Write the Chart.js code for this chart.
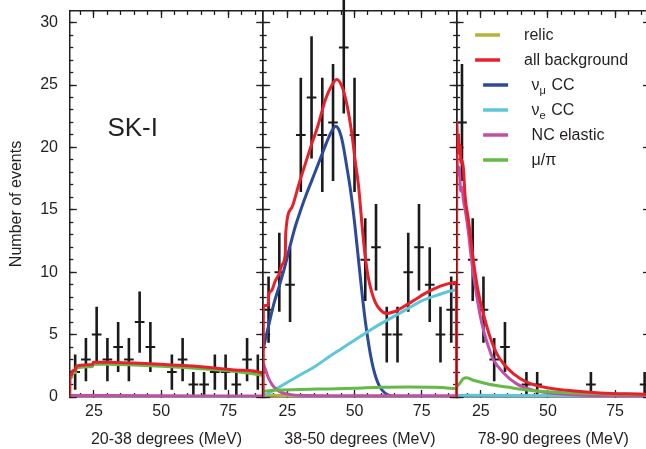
<!DOCTYPE html>
<html>
<head>
<meta charset="utf-8">
<title>SK-I relic search spectra</title>
<script src="https://cdn.jsdelivr.net/npm/chart.js@4.4.1/dist/chart.umd.min.js"></script>
<style>
  html, body { margin: 0; padding: 0; background: #ffffff; overflow: hidden; }
  #wrap { position: relative; width: 646px; height: 449px; overflow: hidden; background: #ffffff; }
  #wrap canvas { position: absolute; left: 0; top: 0; }
</style>
</head>
<body>
<div id="wrap">
  <canvas id="p1" width="650" height="449"></canvas>
  <canvas id="p2" width="650" height="449"></canvas>
  <canvas id="p3" width="650" height="449"></canvas>
</div>
<script>
// ---------------- data ----------------
const binCenters = [18, 22, 26, 30, 34, 38, 42, 46, 50, 54, 58, 62, 66, 70, 74, 78, 82, 86];
const counts20to38 = [2, 3, 5, 3, 4, 3, 6, 4, 0, 2, 3, 1, 1, 2, 2, 1, 3, 2];
const counts38to50 = [7, 10, 9, 21, 24, 21, 22, 28, 21, 11, 12, 5, 5, 10, 12, 9, 5, 7];
const counts78to90 = [22, 11, 7, 3, 4, 0, 1, 1, 0, 0, 0, 0, 1, 0, 0, 0, 0, 1];

const xTicks = [25, 50, 75];
const yTicks = [0, 5, 10, 15, 20, 25, 30];
const panelTitles = ['20-38 degrees (MeV)', '38-50 degrees (MeV)', '78-90 degrees (MeV)'];
const panelTag = 'SK-I';
const yTitle = 'Number of events';
const seriesNames = ['relic', 'all background', 'ν_μ CC', 'ν_e CC', 'NC elastic', 'μ/π'];

// panel A : 20-38 degrees
const relicE_A = [16, 88];
const relicY_A = [0.01, 0.01];
const bkgE_A = [16, 16.05, 16.8, 16.9, 18.2, 18.3, 24.5, 24.7, 30, 40, 50, 60, 70, 80, 87.95, 88];
const bkgY_A = [0, 1.72, 1.78, 2.08, 2.15, 2.45, 2.6, 2.78, 2.78, 2.72, 2.62, 2.5, 2.33, 2.14, 1.88, 0];
const numuE_A = [16, 88];
const numuY_A = [0, 0];
const nueE_A = [16, 88];
const nueY_A = [0.02, 0.04];
const ncE_A = [16, 50, 88];
const ncY_A = [0.12, 0.1, 0.08];
const mupiE_A = [16, 16.8, 16.9, 18.2, 18.3, 24.5, 24.7, 30, 40, 50, 60, 70, 80, 88];
const mupiY_A = [1.55, 1.6, 1.9, 1.97, 2.3, 2.45, 2.62, 2.63, 2.57, 2.47, 2.34, 2.18, 1.99, 1.74];

// panel B : 38-50 degrees
const relicE_B = [16, 24, 30, 88];
const relicY_B = [0.15, 0.12, 0.05, 0.02];
const bkgE_B = [16, 16.05, 17.9, 18.0, 19, 20.5, 22, 23, 24.2, 24.4, 26.7, 29.2, 31.7, 34.1, 36.6, 39.1, 41.6, 43.4, 45.3, 47.1, 49, 50.2, 51.5, 52.7, 54, 55.2, 56.4, 57.7, 59.5, 62, 65, 68.8, 72.5, 76.3, 80, 83.7, 87.95, 88];
const bkgY_B = [0, 7.3, 7.35, 8.1, 8.5, 9.3, 9.9, 10.6, 11.4, 13.2, 15.2, 17.0, 18.7, 20.3, 21.9, 23.8, 25.0, 25.45, 24.9, 23.5, 21.1, 19.0, 16.9, 14.0, 11.2, 9.5, 8.4, 7.6, 7.0, 6.7, 6.85, 7.3, 7.8, 8.3, 8.7, 9.0, 9.2, 0];
const numuE_B = [16, 17, 18, 20, 22, 24, 26, 28, 30, 32, 34, 36, 38, 40, 41.5, 43, 44, 45, 46, 47, 48, 49, 50, 51, 52, 53, 54, 55, 56, 57, 58, 59, 60, 61, 62, 63, 64, 66, 88];
const numuY_B = [3.8, 4.8, 5.7, 7.5, 8.9, 10.4, 12.1, 13.7, 15.0, 16.2, 17.3, 18.4, 19.5, 20.6, 21.3, 21.7, 21.5, 20.9, 19.9, 18.6, 17.3, 15.8, 14.0, 12.0, 9.9, 7.9, 6.1, 4.6, 3.3, 2.3, 1.55, 1.0, 0.62, 0.38, 0.22, 0.12, 0.06, 0.01, 0];
const nueE_B = [16, 18, 22, 26, 30, 35, 40, 45, 50, 55, 60, 65, 70, 75, 80, 85, 88];
const nueY_B = [0.05, 0.3, 0.8, 1.3, 1.8, 2.4, 3.15, 3.85, 4.55, 5.25, 5.9, 6.5, 7.1, 7.7, 8.1, 8.45, 8.6];
const ncE_B = [16, 17, 18, 19, 20, 22, 24, 27, 32, 50, 88];
const ncY_B = [2.7, 2.1, 1.5, 1.1, 0.8, 0.45, 0.28, 0.17, 0.12, 0.1, 0.1];
const mupiE_B = [16, 20, 30, 40, 50, 60, 70, 80, 88];
const mupiY_B = [0.45, 0.55, 0.6, 0.65, 0.7, 0.78, 0.8, 0.78, 0.65];

// panel C : 78-90 degrees
const relicE_C = [16, 88];
const relicY_C = [0, 0];
const bkgE_C = [16, 16.05, 16.4, 16.7, 17.0, 17.3, 17.6, 17.9, 18.5, 19.2, 20.4, 21.65, 22.9, 24.7, 26.6, 28.45, 30.9, 33.4, 37.1, 42.1, 48.3, 57, 69.4, 85.4, 88];
const bkgY_C = [0, 22.0, 20.0, 21.0, 19.5, 20.2, 18.8, 19.0, 18.4, 16.0, 14.2, 12.0, 9.9, 7.75, 6.15, 4.8, 3.5, 2.68, 1.88, 1.2, 0.8, 0.54, 0.32, 0.22, 0.2];
const numuE_C = [16, 88];
const numuY_C = [0.04, 0.02];
const nueE_C = [16, 40, 88];
const nueY_C = [0.15, 0.12, 0.06];
const ncE_C = [16.05, 16.5, 17, 17.5, 18, 18.5, 19.2, 20.4, 21.6, 23.5, 25.4, 27.3, 29.7, 33.4, 38.4, 44.5, 50.7, 60, 75, 88];
const ncY_C = [19.5, 17.8, 18.4, 16.5, 16.8, 15.8, 15.0, 13.2, 10.9, 8.1, 5.9, 4.4, 3.0, 1.95, 1.05, 0.54, 0.32, 0.18, 0.08, 0.05];
const mupiE_C = [16, 17, 18.5, 19.8, 22.2, 24.7, 28.5, 34.7, 40.8, 47, 59.4, 71.8, 84.2, 88];
const mupiY_C = [0.8, 1.05, 1.47, 1.55, 1.34, 1.2, 1.0, 0.8, 0.6, 0.46, 0.32, 0.24, 0.22, 0.2];

// ---------------- styling / layout ----------------
const INK = '#231f20';
const FONT = "'Liberation Sans', Arial, Helvetica, sans-serif";
const seriesColors = ['#b5b236', '#e8202a', '#2c4a9a', '#5ec6d9', '#c04fa8', '#64b947'];
const seriesOrder = [6, 1, 5, 4, 3, 2];
const CANVAS_W = 650;
const PANEL_LEFT = [69.8, 263.2, 456.6];
const PANEL_RIGHT = [263.2, 456.6, 650];
const X_MIN = 16, X_MAX = 88, Y_MIN = 0, Y_MAX = 30.93;
const HALF_BIN = 1.8;

function pts(E, Y) { return E.map((e, i) => ({ x: e, y: Y[i] })); }

function curve(k, E, Y) {
  return {
    label: seriesNames[k], data: pts(E, Y),
    borderColor: seriesColors[k], backgroundColor: seriesColors[k],
    borderWidth: 3, pointRadius: 0, fill: false,
    cubicInterpolationMode: 'monotone', order: seriesOrder[k],
    xAxisID: 'x', yAxisID: 'y'
  };
}

function vBars(counts) {
  const out = [];
  binCenters.forEach((e, i) => {
    const n = counts[i];
    if (n <= 0) return;
    const s = Math.sqrt(n);
    out.push({ x: e, y: n - s }, { x: e, y: n + s }, { x: e, y: null });
  });
  return out;
}
function hBars(counts) {
  const out = [];
  binCenters.forEach((e, i) => {
    const n = counts[i];
    if (n <= 0) return;
    out.push({ x: e - HALF_BIN, y: n }, { x: e + HALF_BIN, y: n }, { x: e, y: null });
  });
  return out;
}
function dataSets(counts) {
  const base = { borderColor: '#1a1a1a', backgroundColor: '#1a1a1a', pointRadius: 0, fill: false,
                 tension: 0, clip: false, order: 10, xAxisID: 'x', yAxisID: 'y', spanGaps: false };
  return [
    Object.assign({ label: 'data', data: vBars(counts), borderWidth: 2.6 }, base),
    Object.assign({ label: 'data (bin width)', data: hBars(counts), borderWidth: 2 }, base)
  ];
}

function frame(axis, position, weight, tickValues, tickLen, showBorder, thickness) {
  return {
    type: 'linear', axis, position, weight,
    min: axis === 'x' ? X_MIN : Y_MIN,
    max: axis === 'x' ? X_MAX : Y_MAX,
    afterBuildTicks: s => { s.ticks = tickValues.map(v => ({ value: v })); },
    afterFit: s => {
      if (axis === 'x') s.height = thickness; else s.width = thickness;
      s.paddingTop = 0; s.paddingBottom = 0; s.paddingLeft = 0; s.paddingRight = 0;
    },
    grid: { display: true, drawOnChartArea: false, drawTicks: true, tickLength: -tickLen, tickWidth: 1.3, tickColor: INK },
    border: { display: showBorder, color: INK, width: 1.5 },
    ticks: { display: false },
    title: { display: false }
  };
}

const minorX = []; for (let v = 20; v <= 85; v += 5) minorX.push(v);
const minorY = []; for (let v = 0; v <= 30; v += 1) minorY.push(v);

function richText(ctx, text, x, y, size) {
  // "_c" renders c as a subscript
  const parts = text.split(/_(.)/);
  let cx = x;
  parts.forEach((p, i) => {
    if (!p) return;
    const sub = i % 2 === 1;
    ctx.font = (sub ? Math.round(size * 0.68) : size) + 'px ' + FONT;
    ctx.fillText(p, cx, sub ? y + size * 0.33 : y);
    cx += ctx.measureText(p).width + (sub ? 1 : 0);
  });
}

const tagPlugin = {
  id: 'panelTag',
  afterDraw(chart) {
    const { ctx, scales } = chart;
    ctx.save();
    ctx.fillStyle = INK;
    ctx.font = '26px ' + FONT;
    ctx.textBaseline = 'middle';
    ctx.textAlign = 'left';
    ctx.fillText(panelTag, scales.x.getPixelForValue(30.0), scales.y.getPixelForValue(21.5));
    ctx.restore();
  }
};

const legendPlugin = {
  id: 'panelLegend',
  afterDraw(chart) {
    const { ctx, chartArea } = chart;
    ctx.save();
    ctx.textBaseline = 'middle';
    ctx.textAlign = 'left';
    seriesNames.forEach((name, k) => {
      const y = chartArea.top + 25 + 25 * k;
      const indent = k < 2 ? 0 : 8;
      ctx.strokeStyle = seriesColors[k];
      ctx.lineWidth = 3.5;
      ctx.beginPath();
      ctx.moveTo(chartArea.left + 18.5 + indent, y - 1);
      ctx.lineTo(chartArea.left + 43.5 + indent, y - 1);
      ctx.stroke();
      ctx.fillStyle = INK;
      richText(ctx, name, chartArea.left + 67.5 + (k < 2 ? 0 : 7.5), y, 16);
    });
    ctx.restore();
  }
};

function buildChart(canvasId, idx, curveSets, counts, extraPlugins) {
  const first = idx === 0;
  const yMajor = frame('y', 'left', 1, yTicks, 7, true, first ? PANEL_LEFT[0] : 0);
  if (first) {
    yMajor.ticks = { display: true, font: { family: FONT, size: 16 }, color: INK, padding: 18.8 };
    yMajor.title = { display: true, text: yTitle, font: { family: FONT, size: 16 }, color: INK, padding: { top: 7, bottom: 0 } };
  }
  const xMajor = frame('x', 'bottom', 1, xTicks, 7, true, 52);
  xMajor.ticks = { display: true, font: { family: FONT, size: 16 }, color: INK, padding: 12.4, maxRotation: 0, autoSkip: false };
  xMajor.title = { display: true, text: panelTitles[idx], font: { family: FONT, size: 16 }, color: INK, padding: { top: 0, bottom: 0 } };

  return new Chart(document.getElementById(canvasId), {
    type: 'line',
    data: { datasets: curveSets.concat(dataSets(counts)) },
    options: {
      responsive: false, animation: false, devicePixelRatio: 1, events: [],
      layout: { autoPadding: false, padding: { left: first ? 0 : PANEL_LEFT[idx], right: CANVAS_W - PANEL_RIGHT[idx], top: 11, bottom: 0 } },
      plugins: { legend: { display: false }, tooltip: { enabled: false }, title: { display: false } },
      scales: {
        x: xMajor,
        xMinor: frame('x', 'bottom', 0, minorX, 4, false, 0),
        xTop: frame('x', 'top', 1, xTicks, 7, true, 0),
        xTopMinor: frame('x', 'top', 0, minorX, 4, false, 0),
        y: yMajor,
        yMinor: frame('y', 'left', 0, minorY, 3.5, false, 0),
        yRight: frame('y', 'right', 1, yTicks, 7, true, 0),
        yRightMinor: frame('y', 'right', 0, minorY, 3.5, false, 0)
      }
    },
    plugins: extraPlugins
  });
}

buildChart('p1', 0, [
  curve(0, relicE_A, relicY_A), curve(1, bkgE_A, bkgY_A), curve(2, numuE_A, numuY_A),
  curve(3, nueE_A, nueY_A), curve(4, ncE_A, ncY_A), curve(5, mupiE_A, mupiY_A)
], counts20to38, [tagPlugin]);

buildChart('p2', 1, [
  curve(0, relicE_B, relicY_B), curve(1, bkgE_B, bkgY_B), curve(2, numuE_B, numuY_B),
  curve(3, nueE_B, nueY_B), curve(4, ncE_B, ncY_B), curve(5, mupiE_B, mupiY_B)
], counts38to50, []);

buildChart('p3', 2, [
  curve(0, relicE_C, relicY_C), curve(1, bkgE_C, bkgY_C), curve(2, numuE_C, numuY_C),
  curve(3, nueE_C, nueY_C), curve(4, ncE_C, ncY_C), curve(5, mupiE_C, mupiY_C)
], counts78to90, [legendPlugin]);
</script>
</body>
</html>
